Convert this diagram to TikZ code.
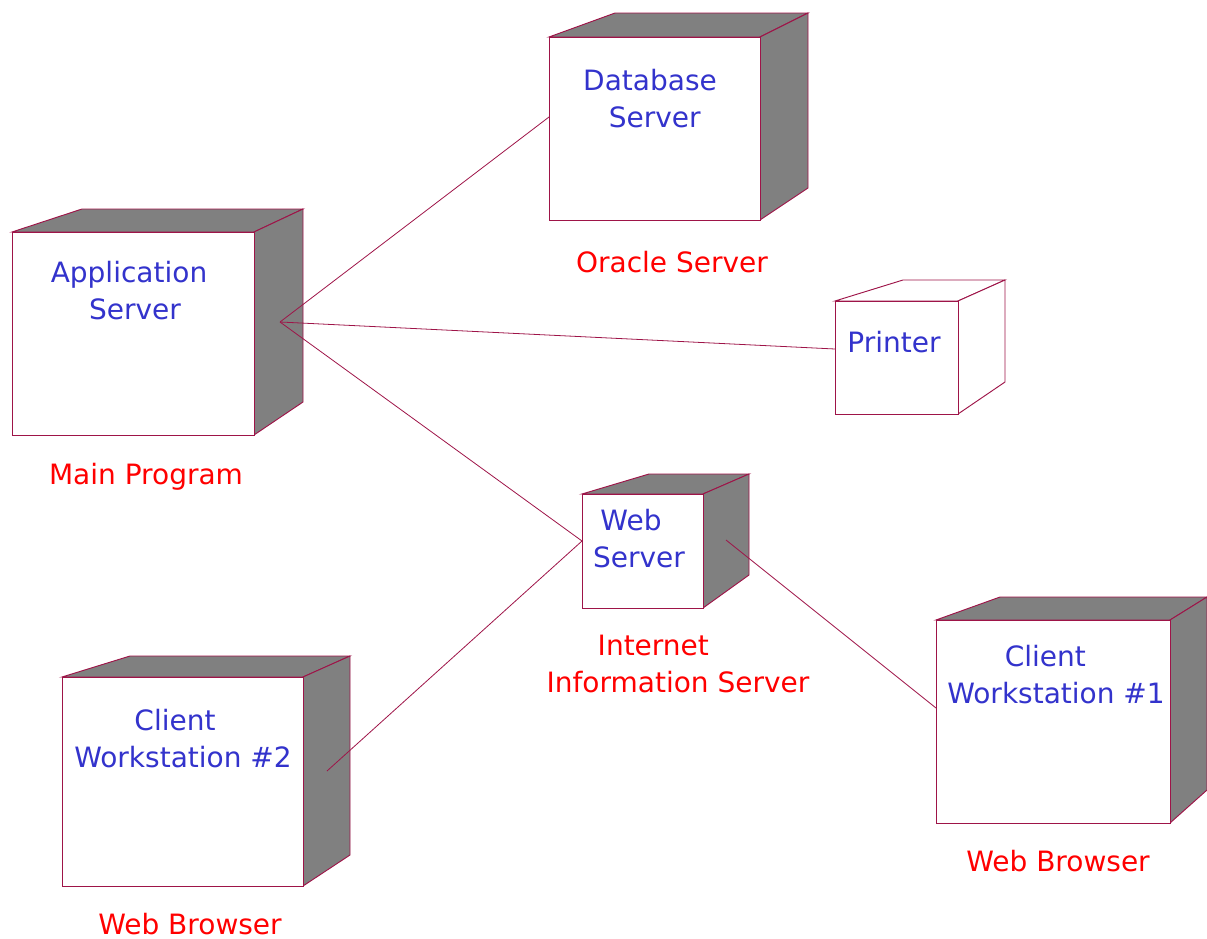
\documentclass[tikz,border=0pt]{standalone}
\usepackage{fontspec}
\setmainfont{DejaVu Sans}
\usetikzlibrary{calc}
\definecolor{wire}{RGB}{158,20,72}
\definecolor{devblue}{RGB}{51,51,204}
\definecolor{sidegray}{RGB}{128,128,128}
\tikzset{
  face/.style={draw=wire, line width=0.7pt, line join=miter},
  shade3d/.style={face, fill=sidegray},
  blank3d/.style={face, fill=white},
  link/.style={wire, line width=0.6pt},
  devtext/.style={align=center, text=devblue, font=\fontsize{21}{27.7}\selectfont, inner sep=0pt},
  rolelabel/.style={align=center, text=red, font=\fontsize{21}{27.7}\selectfont, inner sep=0pt},
}

\begin{document}
\begin{tikzpicture}[x=0.75pt,y=-0.75pt]
  \useasboundingbox (0,0) rectangle (1207,939);
  % ---- Application Server ----
  \draw[shade3d] (12,232) -- (82,209) -- (303,209) -- (254,232) -- cycle;
  \draw[shade3d] (254,232) -- (303,209) -- (303,402) -- (254,435) -- cycle;
  \draw[blank3d] (12,232) rectangle (254,435);
  \node[devtext] (app) at (129,291) {Application\\\hspace*{9pt}Server};
  \node[rolelabel] (appl) at (146,477) {Main Program};
  \coordinate (app-port) at (280,322);
  % ---- Database Server ----
  \draw[shade3d] (549,37) -- (615,13) -- (808,13) -- (760,37) -- cycle;
  \draw[shade3d] (760,37) -- (808,13) -- (808,188) -- (760,220) -- cycle;
  \draw[blank3d] (549,37) rectangle (760,220);
  \node[devtext] (db) at (650,99) {Database\\\hspace*{7pt}Server};
  \node[rolelabel] (dbl) at (672,262) {Oracle Server};
  \coordinate (db-w) at (549,117);
  % ---- Printer ----
  \draw[blank3d] (835,301) -- (903,280) -- (1005,280) -- (958,301) -- cycle;
  \draw[blank3d] (958,301) -- (1005,280) -- (1005,382) -- (958,414) -- cycle;
  \draw[blank3d] (835,301) rectangle (958,414);
  \node[devtext] (prn) at (894,342) {Printer};
  \coordinate (prn-w) at (835,349);
  % ---- Web Server ----
  \draw[shade3d] (582,494) -- (649,474) -- (749,474) -- (703,494) -- cycle;
  \draw[shade3d] (703,494) -- (749,474) -- (749,575) -- (703,608) -- cycle;
  \draw[blank3d] (582,494) rectangle (703,608);
  \node[devtext] (web) at (639,539) {Web\hspace*{12pt}\\Server};
  \node[rolelabel] (webl) at (678,664) {Internet\hspace*{37pt}\\Information Server};
  \coordinate (web-w) at (582,541);
  \coordinate (web-port) at (726,540);
  % ---- Client Workstation #1 ----
  \draw[shade3d] (936,620) -- (1000,597) -- (1207,597) -- (1170,620) -- cycle;
  \draw[shade3d] (1170,620) -- (1207,597) -- (1207,790) -- (1170,823) -- cycle;
  \draw[blank3d] (936,620) rectangle (1170,823);
  \node[devtext] (cw1) at (1056,675) {Client\hspace*{16pt}\\Workstation \#1};
  \node[rolelabel] (cw1l) at (1058,861) {Web Browser};
  \coordinate (cw1-w) at (936,708);
  % ---- Client Workstation #2 ----
  \draw[shade3d] (62,677) -- (130,656) -- (350,656) -- (303,677) -- cycle;
  \draw[shade3d] (303,677) -- (350,656) -- (350,855) -- (303,886) -- cycle;
  \draw[blank3d] (62,677) rectangle (303,886);
  \node[devtext] (cw2) at (183,739) {Client\hspace*{12pt}\\Workstation \#2};
  \node[rolelabel] (cw2l) at (190,924) {Web Browser};
  \coordinate (cw2-port) at (327,771);
  % ---- links ----
  \draw[link] (app-port) -- (db-w);
  \draw[link] (app-port) -- (prn-w);
  \draw[link] (app-port) -- (web-w);
  \draw[link] (web-w) -- (cw2-port);
  \draw[link] (web-port) -- (cw1-w);
\end{tikzpicture}
\end{document}
